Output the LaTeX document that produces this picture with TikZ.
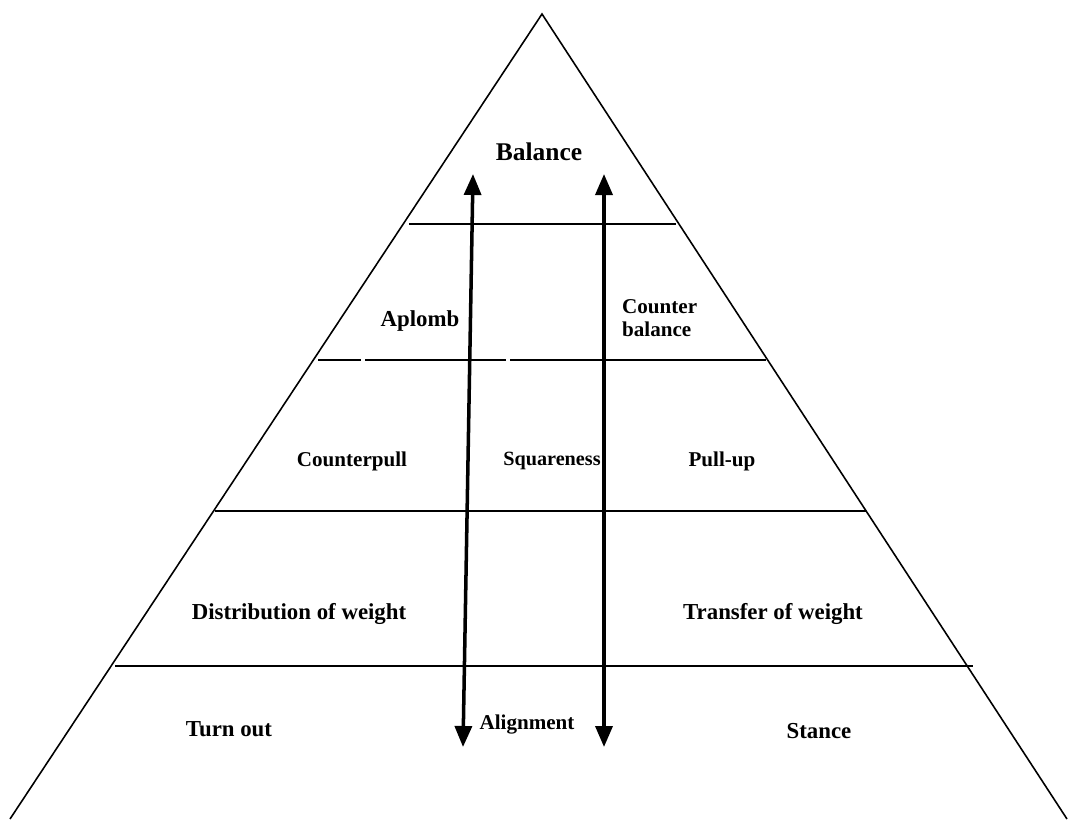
\documentclass[tikz,border=0pt]{standalone}
\usepackage{fontspec}
\setmainfont{Liberation Serif}
\usetikzlibrary{arrows.meta, calc}

\begin{document}
\begin{tikzpicture}[x=0.02cm, y=-0.02cm,
        lbl/.style={font=\bfseries\fontsize{13}{15}\selectfont, align=center},
        small/.style={font=\bfseries\fontsize{#1}{13.5}\selectfont},
        level/.style={line width=1.2pt},
        axis/.style={line width=2pt, >={Triangle[length=0.42cm, width=0.34cm]}, <->}]
        \useasboundingbox (0,0) rectangle (1068,819);
        \begin{scope}
        \clip (0,0) rectangle (1068,819);
        \draw[line width=0.9pt] (10,819) -- (542,14) -- (1067,819);
        \end{scope}
        
        \draw[level] (409,224) -- (676,224);
        \draw[level] (318,360) -- (361,360);
        \draw[level] (365,360) -- (506,360);
        \draw[level] (510,360) -- (766,360);
        \draw[level] (215,511) -- (866,511);
        \draw[level] (115,666) -- (973,666);
        
        \coordinate (ltop) at (473,174);
        \coordinate (lbot) at (463,747);
        \coordinate (rtop) at (604,174);
        \coordinate (rbot) at (604,747);
        \draw[axis] (lbot) -- (ltop);
        \draw[axis] (rbot) -- (rtop);
        
        \node[lbl, font=\bfseries\fontsize{14.5}{16}\selectfont] (balance) at (539,152) {Balance};
        \node[lbl] (aplomb) at (420,321) {Aplomb};
        \node[lbl, small=12, align=left, anchor=west] (cbal) at (616,318) {Counter\\balance};
        \node[lbl, small=12] (cpull) at (352,461) {Counterpull};
        \node[lbl, small=11.5] (square) at (552,461) {Squareness};
        \node[lbl, small=12] (pullup) at (722,461) {Pull-up};
        \node[lbl] (distw) at (299,614) {Distribution of weight};
        \node[lbl] (transw) at (773,614) {Transfer of weight};
        \node[lbl] (turnout) at (229,729) {Turn out};
        \node[lbl, small=12] (align) at (527,724) {Alignment};
        \node[lbl] (stance) at (819,731) {Stance};
    \end{tikzpicture}
\end{document}
